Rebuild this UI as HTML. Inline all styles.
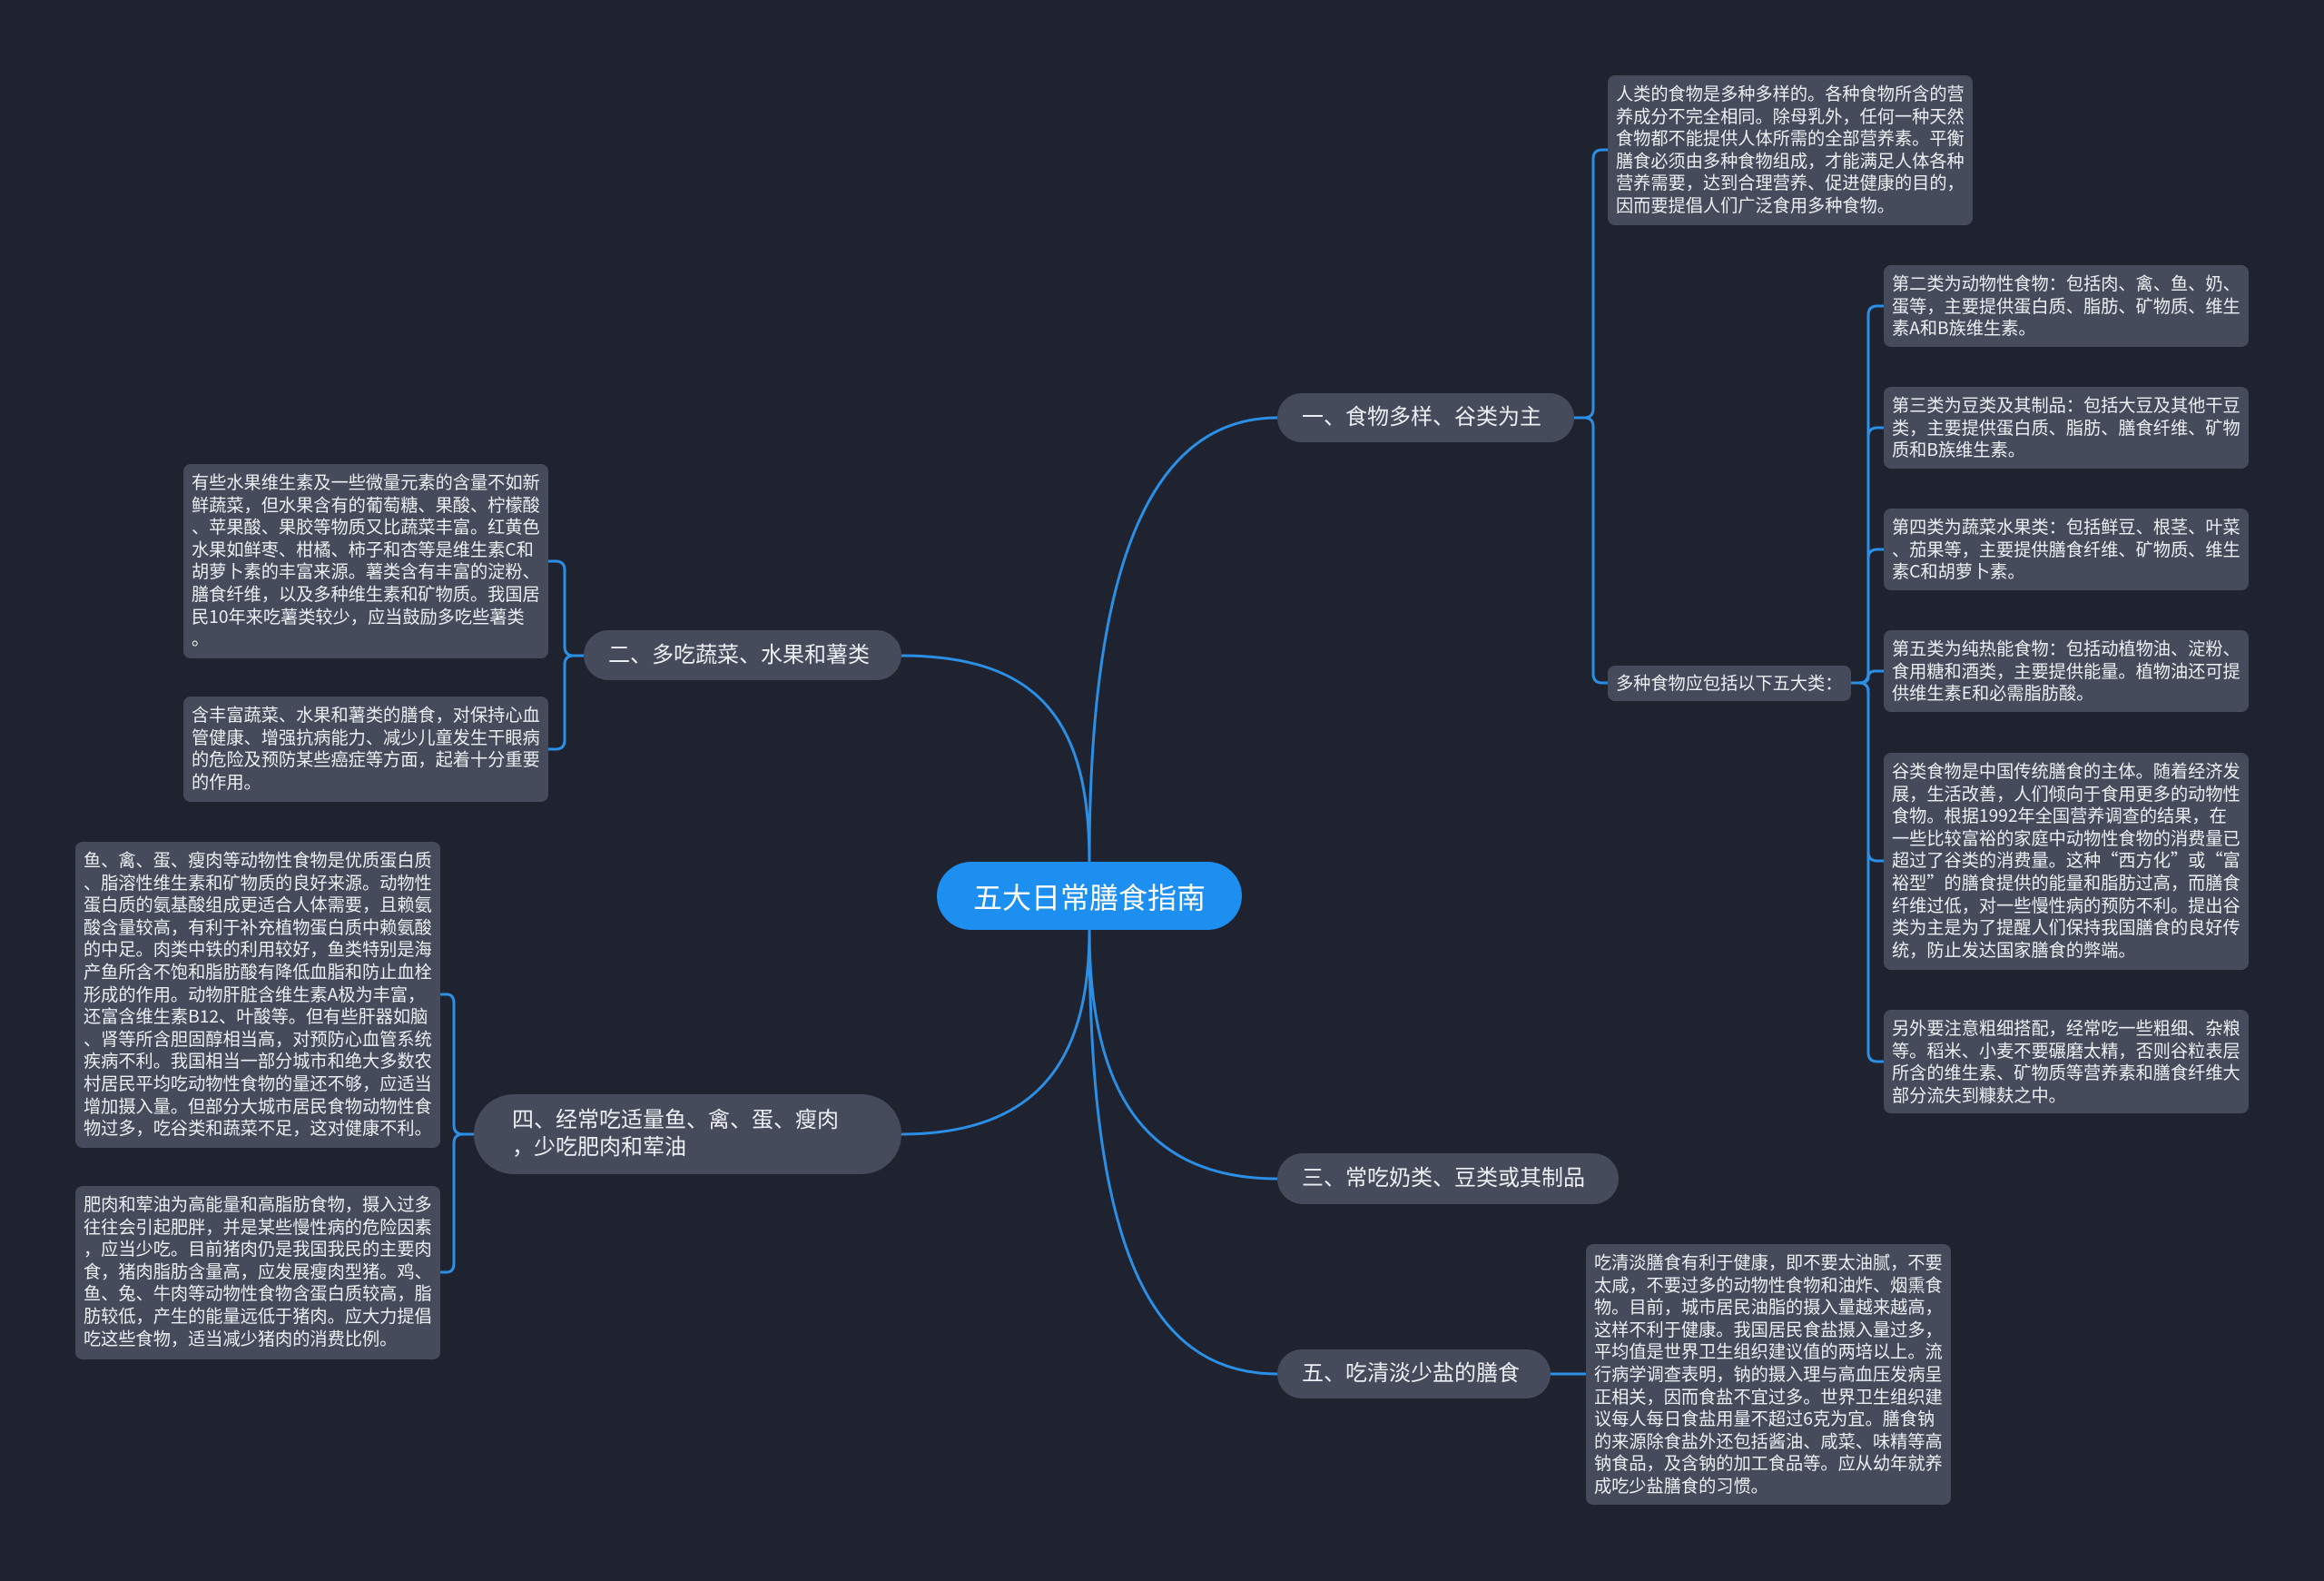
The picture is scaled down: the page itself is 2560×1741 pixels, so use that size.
<!DOCTYPE html>
<html><head><meta charset="utf-8">
<style>
html,body{margin:0;padding:0}
body{width:2560px;height:1741px;background:#1f2330;position:relative;overflow:hidden;font-family:"Liberation Sans","Noto Sans CJK SC",sans-serif}
.leaf{position:absolute;background:#454b5a;border-radius:8px;color:#eceef2;font-family:"Noto Sans CJK SC",sans-serif;font-size:19.2px;line-height:24.6px;padding:7px 9px;box-sizing:border-box;white-space:nowrap}
.br{position:absolute;background:#454b5a;border-radius:30px;color:#eceef2;font-size:24px;line-height:30px;box-sizing:border-box;white-space:nowrap;display:flex;align-items:center;padding-left:27px}
.center{position:absolute;left:1032px;top:949px;width:336px;height:75px;background:#1c8ff0;border-radius:38px;color:#fff;font-size:32px;display:flex;align-items:center;justify-content:center}
svg{position:absolute;left:0;top:0}
</style></head><body>
<svg width="2560" height="1741" fill="none" stroke="#2b8fe6" stroke-width="3">
<path d="M1200,949 C1200,640 1260,460 1407,460"/>
<path d="M1200,949 C1200,800 1150,722 993,722"/>
<path d="M1200,1024 C1200,1160 1150,1249 993,1249"/>
<path d="M1200,1024 C1200,1200 1260,1298 1407,1298"/>
<path d="M1200,1024 C1200,1360 1260,1513 1407,1513"/>
<path d="M1734,460 H1745 Q1755,460 1755,450 V175 Q1755,165 1765,165 H1771"/>
<path d="M1734,460 H1745 Q1755,460 1755,470 V742 Q1755,752 1765,752 H1771"/>
<path d="M2039,752 H2048 Q2058,752 2058,742 V347 Q2058,337 2068,337 H2075"/>
<path d="M2039,752 H2048 Q2058,752 2058,742 V481 Q2058,471 2068,471 H2075"/>
<path d="M2039,752 H2048 Q2058,752 2058,742 V615 Q2058,605 2068,605 H2075"/>
<path d="M2039,752 H2048 Q2058,752 2058,746 Q2058,739 2066,739 H2075"/>
<path d="M2039,752 H2048 Q2058,752 2058,762 V938 Q2058,948 2068,948 H2075"/>
<path d="M2039,752 H2048 Q2058,752 2058,762 V1159 Q2058,1169 2068,1169 H2075"/>
<path d="M643,722 H632 Q622,722 622,712 V628 Q622,618 612,618 H604"/>
<path d="M643,722 H632 Q622,722 622,732 V815 Q622,825 612,825 H604"/>
<path d="M522,1249 H510 Q500,1249 500,1239 V1105 Q500,1095 492,1095 H485"/>
<path d="M522,1249 H510 Q500,1249 500,1259 V1391 Q500,1401 492,1401 H485"/>
<path d="M1708,1513 H1747"/>
</svg>

<div class="center">五大日常膳食指南</div>

<div class="br" style="left:1407px;top:433px;width:327px;height:54px">一、食物多样、谷类为主</div>
<div class="br" style="left:643px;top:694px;width:350px;height:55px">二、多吃蔬菜、水果和薯类</div>
<div class="br" style="left:1407px;top:1270px;width:376px;height:56px">三、常吃奶类、豆类或其制品</div>
<div class="br" style="left:522px;top:1205px;width:471px;height:88px;border-radius:44px;padding-left:42px">四、经常吃适量鱼、禽、蛋、瘦肉<br>，少吃肥肉和荤油</div>
<div class="br" style="left:1407px;top:1486px;width:301px;height:54px">五、吃清淡少盐的膳食</div>

<div class="leaf" style="left:1771px;top:83px;width:402px;height:165px">人类的食物是多种多样的。各种食物所含的营<br>养成分不完全相同。除母乳外，任何一种天然<br>食物都不能提供人体所需的全部营养素。平衡<br>膳食必须由多种食物组成，才能满足人体各种<br>营养需要，达到合理营养、促进健康的目的，<br>因而要提倡人们广泛食用多种食物。</div>
<div class="leaf" style="left:1771px;top:733px;width:268px;height:39px;padding-top:6px">多种食物应包括以下五大类：</div>

<div class="leaf" style="left:2075px;top:292px;width:402px;height:90px">第二类为动物性食物：包括肉、禽、鱼、奶、<br>蛋等，主要提供蛋白质、脂肪、矿物质、维生<br>素A和B族维生素。</div>
<div class="leaf" style="left:2075px;top:426px;width:402px;height:90px">第三类为豆类及其制品：包括大豆及其他干豆<br>类，主要提供蛋白质、脂肪、膳食纤维、矿物<br>质和B族维生素。</div>
<div class="leaf" style="left:2075px;top:560px;width:402px;height:90px">第四类为蔬菜水果类：包括鲜豆、根茎、叶菜<br>、茄果等，主要提供膳食纤维、矿物质、维生<br>素C和胡萝卜素。</div>
<div class="leaf" style="left:2075px;top:694px;width:402px;height:90px">第五类为纯热能食物：包括动植物油、淀粉、<br>食用糖和酒类，主要提供能量。植物油还可提<br>供维生素E和必需脂肪酸。</div>
<div class="leaf" style="left:2075px;top:829px;width:402px;height:239px">谷类食物是中国传统膳食的主体。随着经济发<br>展，生活改善，人们倾向于食用更多的动物性<br>食物。根据1992年全国营养调查的结果，在<br>一些比较富裕的家庭中动物性食物的消费量已<br>超过了谷类的消费量。这种“西方化”或“富<br>裕型”的膳食提供的能量和脂肪过高，而膳食<br>纤维过低，对一些慢性病的预防不利。提出谷<br>类为主是为了提醒人们保持我国膳食的良好传<br>统，防止发达国家膳食的弊端。</div>
<div class="leaf" style="left:2075px;top:1112px;width:402px;height:114px">另外要注意粗细搭配，经常吃一些粗细、杂粮<br>等。稻米、小麦不要碾磨太精，否则谷粒表层<br>所含的维生素、矿物质等营养素和膳食纤维大<br>部分流失到糠麸之中。</div>

<div class="leaf" style="left:1747px;top:1370px;width:402px;height:287px">吃清淡膳食有利于健康，即不要太油腻，不要<br>太咸，不要过多的动物性食物和油炸、烟熏食<br>物。目前，城市居民油脂的摄入量越来越高，<br>这样不利于健康。我国居民食盐摄入量过多，<br>平均值是世界卫生组织建议值的两培以上。流<br>行病学调查表明，钠的摄入理与高血压发病呈<br>正相关，因而食盐不宜过多。世界卫生组织建<br>议每人每日食盐用量不超过6克为宜。膳食钠<br>的来源除食盐外还包括酱油、咸菜、味精等高<br>钠食品，及含钠的加工食品等。应从幼年就养<br>成吃少盐膳食的习惯。</div>

<div class="leaf" style="left:202px;top:511px;width:402px;height:214px">有些水果维生素及一些微量元素的含量不如新<br>鲜蔬菜，但水果含有的葡萄糖、果酸、柠檬酸<br>、苹果酸、果胶等物质又比蔬菜丰富。红黄色<br>水果如鲜枣、柑橘、柿子和杏等是维生素C和<br>胡萝卜素的丰富来源。薯类含有丰富的淀粉、<br>膳食纤维，以及多种维生素和矿物质。我国居<br>民10年来吃薯类较少，应当鼓励多吃些薯类<br>。</div>
<div class="leaf" style="left:202px;top:767px;width:402px;height:116px">含丰富蔬菜、水果和薯类的膳食，对保持心血<br>管健康、增强抗病能力、减少儿童发生干眼病<br>的危险及预防某些癌症等方面，起着十分重要<br>的作用。</div>

<div class="leaf" style="left:83px;top:927px;width:402px;height:337px">鱼、禽、蛋、瘦肉等动物性食物是优质蛋白质<br>、脂溶性维生素和矿物质的良好来源。动物性<br>蛋白质的氨基酸组成更适合人体需要，且赖氨<br>酸含量较高，有利于补充植物蛋白质中赖氨酸<br>的中足。肉类中铁的利用较好，鱼类特别是海<br>产鱼所含不饱和脂肪酸有降低血脂和防止血栓<br>形成的作用。动物肝脏含维生素A极为丰富，<br>还富含维生素B12、叶酸等。但有些肝器如脑<br>、肾等所含胆固醇相当高，对预防心血管系统<br>疾病不利。我国相当一部分城市和绝大多数农<br>村居民平均吃动物性食物的量还不够，应适当<br>增加摄入量。但部分大城市居民食物动物性食<br>物过多，吃谷类和蔬菜不足，这对健康不利。</div>
<div class="leaf" style="left:83px;top:1306px;width:402px;height:191px">肥肉和荤油为高能量和高脂肪食物，摄入过多<br>往往会引起肥胖，并是某些慢性病的危险因素<br>，应当少吃。目前猪肉仍是我国我民的主要肉<br>食，猪肉脂肪含量高，应发展瘦肉型猪。鸡、<br>鱼、兔、牛肉等动物性食物含蛋白质较高，脂<br>肪较低，产生的能量远低于猪肉。应大力提倡<br>吃这些食物，适当减少猪肉的消费比例。</div>
</body></html>
